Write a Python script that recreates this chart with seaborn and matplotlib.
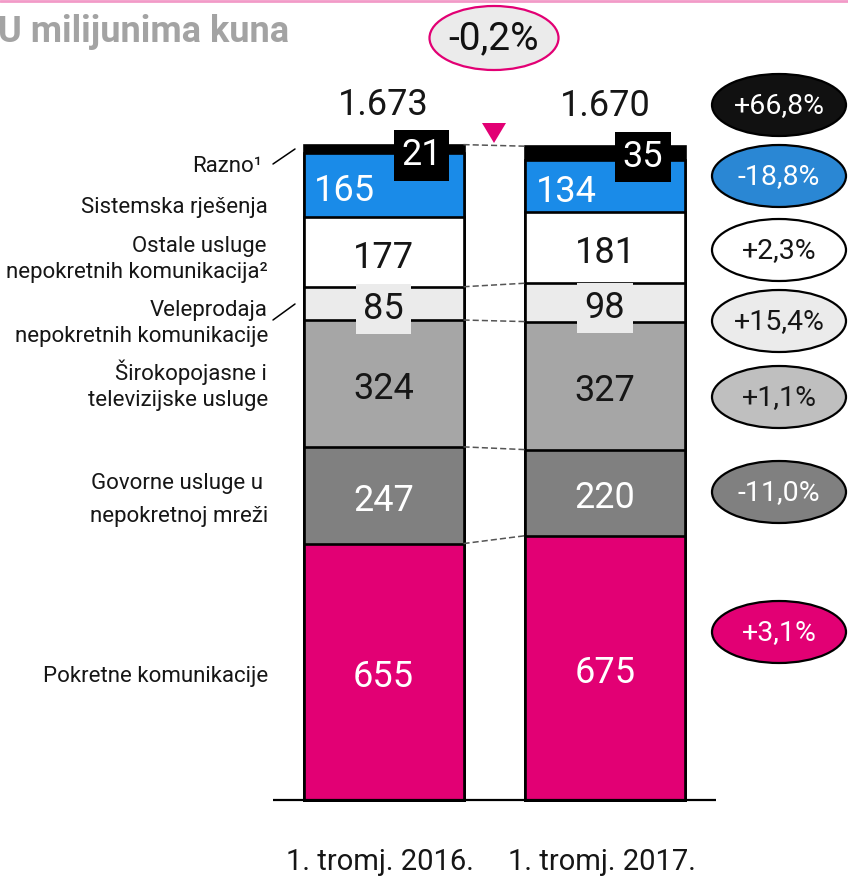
import numpy as np
import pandas as pd
import matplotlib
matplotlib.use("Agg")
import matplotlib.pyplot as plt
import seaborn as sns
from matplotlib.patches import Ellipse, Polygon

# ---------------- data ----------------
periods = ["1. tromj. 2016.", "1. tromj. 2017."]
segments = ["Pokretne komunikacije",
            "Govorne usluge u nepokretnoj mreži",
            "Širokopojasne i televizijske usluge",
            "Veleprodaja nepokretnih komunikacije",
            "Ostale usluge nepokretnih komunikacija",
            "Sistemska rješenja",
            "Razno"]
values_2016 = [655, 247, 324, 85, 177, 165, 21]
values_2017 = [675, 220, 327, 98, 181, 134, 35]
total_labels = ["1.673", "1.670"]
change_labels = ["+3,1%", "-11,0%", "+1,1%", "+15,4%", "+2,3%", "-18,8%", "+66,8%"]
total_change = "-0,2%"
title = "U milijunima kuna"

left_labels = ["Pokretne komunikacije",
               "Govorne usluge u\nnepokretnoj mreži",
               "Širokopojasne i\ntelevizijske usluge",
               "Veleprodaja\nnepokretnih komunikacije",
               "Ostale usluge\nnepokretnih komunikacija²",
               "Sistemska rješenja",
               "Razno¹"]

# ---------------- style ----------------
seg_colors = ["#E20074", "#808080", "#A6A6A6", "#EBEBEB", "#FFFFFF", "#1A8BE8", "#000000"]
val_text_colors = ["white", "white", "#161616", "#161616", "#161616", "white", "white"]
ell_face = ["#E20074", "#808080", "#BFBFBF", "#EBEBEB", "#FFFFFF", "#2A87D4", "#111111"]
ell_text = ["white", "white", "#161616", "#161616", "#161616", "white", "white"]
PINK = "#E20074"

sns.set_theme(style="white")
plt.rcParams["font.family"] = ["Roboto", "DejaVu Sans"]

W, H = 848, 876
fig = plt.figure(figsize=(W / 100, H / 100), dpi=100)
fig.patch.set_facecolor("white")

# pixel geometry of the bar area
s = 0.3915            # pixels per unit
base_px = 800         # baseline y (from top)
c0, unit = 383.5, 221.5
bar_w = 160 / unit

ax = fig.add_axes([0, 0, 1, 1])
ax.set_facecolor("none")

data = pd.DataFrame({
    "period": np.repeat(periods, len(segments)),
    "segment": segments * 2,
    "value": values_2016 + values_2017,
})
data["cum"] = data.groupby("period")["value"].cumsum()

for i in reversed(range(len(segments))):
    sub = data[data["segment"] == segments[i]]
    sns.barplot(data=sub, x="period", y="cum", color=seg_colors[i], saturation=1,
                width=bar_w, edgecolor="black", linewidth=1.9, errorbar=None,
                ax=ax, zorder=2)

ax.set_xlim(-c0 / unit, (W - c0) / unit)
ax.set_ylim(-(H - base_px) / s, base_px / s)
ax.axis("off")

# baseline
ax.plot([-0.5, 1.5], [0, 0], color="black", lw=1.6, zorder=3, solid_capstyle="butt")

# dashed connectors
cum16 = np.cumsum(values_2016)
cum17 = np.cumsum(values_2017)
for k in [0, 1, 2, 3, 6]:
    ax.plot([bar_w / 2, 1 - bar_w / 2], [cum16[k], cum17[k]], color="#555555",
            lw=1.1, ls=(0, (4, 2)), zorder=3)

# value labels inside bars
NUM = 26
for j, vals in enumerate([values_2016, values_2017]):
    cum = np.cumsum(vals)
    total = cum[-1]
    for i, v in enumerate(vals):
        ctr = cum[i] - v / 2
        x = j
        y = ctr - 15.5 / s
        kw = {}
        if i == 5:
            x = j - 39 / unit
        if i == 6:
            x = j + 38 / unit
            y = total - 53
            kw = dict(bbox=dict(boxstyle="square,pad=0.2", fc="black", ec="none"))
        if i == 3:
            kw = dict(bbox=dict(boxstyle="square,pad=0.2", fc="#EBEBEB", ec="none"))
        ax.text(x, y, str(v), ha="center", va="baseline", fontsize=NUM,
                color=val_text_colors[i], zorder=5, **kw)
    ax.text(j, total + 76, total_labels[j], ha="center", va="baseline",
            fontsize=NUM, color="#161616", zorder=5)
    ax.text(j - 0.015, -70 / s, periods[j], ha="center", va="baseline", fontsize=21,
            color="#161616")

# ---------------- overlay in pixel coordinates ----------------
ov = fig.add_axes([0, 0, 1, 1])
ov.set_xlim(0, W)
ov.set_ylim(H, 0)
ov.axis("off")
ov.patch.set_visible(False)

ov.plot([0, W], [0.8, 0.8], color="#F29AC8", lw=2)

ov.text(-2, 42, title, fontsize=26, fontweight="bold", color="#A3A3A3",
        ha="left", va="baseline")

# left labels (right aligned): (x right, first baseline)
left_pos = [(262, 172), (268, 213), (266, 252), (268, 316), (267, 380), (263, 489), (268, 682)]
left_order = [6, 5, 4, 3, 2, 1, 0]
for k, (xr, yb) in zip(left_order, left_pos):
    lab = left_labels[k]
    for n, line in enumerate(lab.split("\n")):
        xx = 268 if n == 1 else xr
        ov.text(xx, yb + n * (33 if lab.startswith("Govorne") else 26), line,
                ha="right", va="baseline", fontsize=16, color="#161616")

ov.plot([273, 295], [164, 149], color="black", lw=1.1)
ov.plot([273, 295], [320, 304], color="black", lw=1.1)

# change ellipses
ell_y = [632, 492, 397, 321, 250, 176, 105]
for i, lab in enumerate(change_labels):
    ov.add_patch(Ellipse((779, ell_y[i]), 134, 62, fc=ell_face[i], ec="black", lw=1.6))
    ov.text(779, ell_y[i] + 1, lab, ha="center", va="center", fontsize=20.5,
            color=ell_text[i])

# total change
ov.add_patch(Ellipse((494, 38), 129, 64, fc="#EBEBEB", ec=PINK, lw=1.6))
ov.text(494, 39, total_change, ha="center", va="center", fontsize=28, color="#111111")
ov.add_patch(Polygon([(482, 123), (506, 123), (494, 143)], closed=True, fc=PINK, ec="none"))

fig.savefig("out.png", dpi=100, facecolor="white")
